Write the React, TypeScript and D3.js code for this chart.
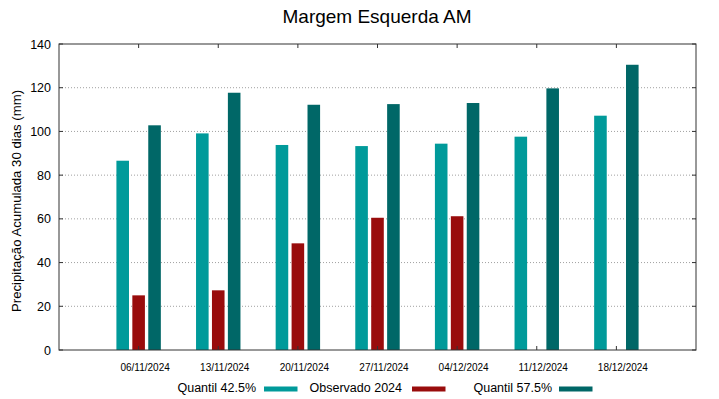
import React from "react";
import * as d3 from "d3";

const categories = ["06/11/2024", "13/11/2024", "20/11/2024", "27/11/2024", "04/12/2024", "11/12/2024", "18/12/2024"];
const quantil425 = [86.6, 99.1, 93.8, 93.3, 94.4, 97.6, 107.2];
const observado2024: (number | null)[] = [25.0, 27.3, 48.8, 60.5, 61.2, null, null];
const quantil575 = [102.8, 117.7, 112.2, 112.5, 113.0, 119.7, 130.5];
const yTicks = [0, 20, 40, 60, 80, 100, 120, 140];

const W = 719, H = 399;
const left = 59, right = 696, top = 44, bottom = 350;
const FONT = "'Liberation Sans', Arial, sans-serif";

const series = [
  { name: "Quantil 42.5%", values: quantil425 as (number | null)[], color: "#009a9a", offset: -0.2 },
  { name: "Observado 2024", values: observado2024, color: "#990c0c", offset: 0 },
  { name: "Quantil 57.5%", values: quantil575 as (number | null)[], color: "#006767", offset: 0.2 },
];

export default function App() {
  const x = d3.scaleLinear().domain([-1, categories.length]).range([left, right]);
  const y = d3.scaleLinear().domain([0, 140]).range([bottom, top]);
  const barW = 0.158;
  const legend = [
    { textEnd: 256, sw: 264, i: 0 },
    { textEnd: 402, sw: 412, i: 1 },
    { textEnd: 552, sw: 559, i: 2 },
  ];
  return (
    <svg width={W} height={H} style={{ position: "absolute", left: 0, top: 0, background: "#fff" }} fontFamily={FONT}>
      <rect width={W} height={H} fill="#fff" />
      <text x={377} y={23} textAnchor="middle" fontSize={19} fill="#000">Margem Esquerda AM</text>
      {yTicks.filter((t) => t > 0 && t < 140).map((t) => (
        <line key={"g" + t} x1={left} x2={right} y1={y(t)} y2={y(t)} stroke="#a0a0a0" strokeWidth={1} strokeDasharray="1,2" />
      ))}
      {series.map((s) =>
        s.values.map((v, i) =>
          v == null ? null : (
            <rect key={s.name + i} x={x(i + s.offset - barW / 2)} y={y(v)} width={x(barW) - x(0)} height={y(0) - y(v)} fill={s.color} />
          )
        )
      )}
      <rect x={left} y={top} width={right - left} height={bottom - top} fill="none" stroke="#333" strokeWidth={1} />
      {yTicks.map((t) => (
        <g key={"yt" + t}>
          <line x1={left} x2={left + 4} y1={y(t)} y2={y(t)} stroke="#333" />
          <line x1={right - 4} x2={right} y1={y(t)} y2={y(t)} stroke="#333" />
          <text x={51} y={y(t) + 4.5} textAnchor="end" fontSize={12.5} fill="#000">{t}</text>
        </g>
      ))}
      {categories.map((c, i) => (
        <g key={c}>
          <line x1={x(i)} x2={x(i)} y1={bottom} y2={bottom - 4} stroke="#333" />
          <line x1={x(i)} x2={x(i)} y1={top} y2={top + 4} stroke="#333" />
          <text x={x(i) + 6.5} y={371} textAnchor="middle" fontSize={10} fill="#000">{c}</text>
        </g>
      ))}
      <text transform={`translate(21,201) rotate(-90)`} textAnchor="middle" fontSize={13.2} fill="#000">
        Precipitação Acumulada 30 dias (mm)
      </text>
      {legend.map((l) => (
        <g key={"lg" + l.i}>
          <text x={l.textEnd} y={392} textAnchor="end" fontSize={12.5} fill="#000">{series[l.i].name}</text>
          <rect x={l.sw} y={386.5} width={33.5} height={5} fill={series[l.i].color} />
        </g>
      ))}
    </svg>
  );
}
